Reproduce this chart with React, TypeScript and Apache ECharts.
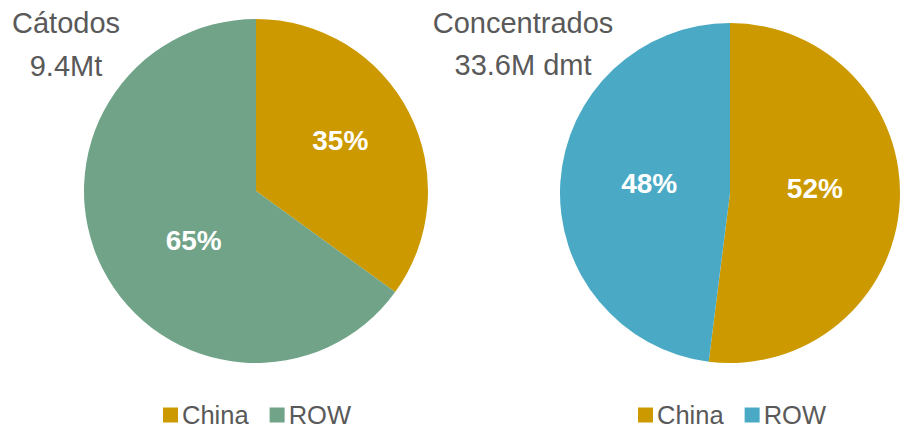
import React, { useEffect, useRef } from "react";
import * as echarts from "echarts";

const categories = ["China", "ROW"];
const catodosValues = [35, 65];
const concentradosValues = [52, 48];
const catodosTitle = ["Cátodos", "9.4Mt"];
const concentradosTitle = ["Concentrados", "33.6M dmt"];

const GOLD = "#CC9A00";
const GREEN = "#70A387";
const BLUE = "#4AAAC5";
const FONT = "Arial, 'Liberation Sans', sans-serif";

export default function App() {
  const ref = useRef<HTMLDivElement>(null);
  useEffect(() => {
    if (!ref.current) return;
    const chart = echarts.init(ref.current, null, { renderer: "svg" });
    const labelBase = {
      show: true,
      position: "inside",
      color: "#FFFFFF",
      fontSize: 28,
      fontWeight: "bold",
      fontFamily: FONT,
    };
    const leftColors = [GOLD, GREEN];
    const rightColors = [GOLD, BLUE];
    const leftOffsets = [[5, -10], [17, 9]];
    const rightOffsets = [[-3, -10], [7, -4]];
    const titleText = (t: string, x: number, y: number) => ({
      type: "text",
      x,
      y,
      style: {
        text: t,
        fill: "#595959",
        font: `29px ${FONT}`,
        textAlign: "center",
        textVerticalAlign: "middle",
      },
    });
    const legendBase = {
      top: 402,
      padding: 0,
      itemWidth: 15,
      itemHeight: 15,
      itemGap: 21,
      icon: "rect",
      textStyle: {
        fontSize: 25.5,
        lineHeight: 18,
        color: "#595959",
        fontFamily: FONT,
        padding: [0, 0, 0, -1],
      },
    };
    chart.setOption({
      animation: false,
      backgroundColor: "#FFFFFF",
      legend: [
        {
          ...legendBase,
          left: 163,
          data: categories.map((c, i) => ({ name: c, itemStyle: { color: leftColors[i] } })),
        },
        {
          ...legendBase,
          left: 638,
          data: categories.map((c, i) => ({ name: c, itemStyle: { color: rightColors[i] } })),
        },
      ],
      graphic: [
        titleText(catodosTitle[0], 66, 23),
        titleText(catodosTitle[1], 66, 66),
        titleText(concentradosTitle[0], 523, 23),
        titleText(concentradosTitle[1], 523, 65),
      ],
      series: [
        {
          type: "pie",
          center: [256, 191],
          radius: 172,
          startAngle: 90,
          clockwise: true,
          silent: true,
          label: { ...labelBase, formatter: "{c}%" },
          labelLine: { show: false },
          itemStyle: { borderWidth: 0 },
          data: categories.map((c, i) => ({
            name: c,
            value: catodosValues[i],
            itemStyle: { color: leftColors[i] },
            label: { offset: leftOffsets[i] },
          })),
        },
        {
          type: "pie",
          center: [730, 193],
          radius: 170,
          startAngle: 90,
          clockwise: true,
          silent: true,
          label: { ...labelBase, formatter: "{c}%" },
          labelLine: { show: false },
          itemStyle: { borderWidth: 0 },
          data: categories.map((c, i) => ({
            name: c,
            value: concentradosValues[i],
            itemStyle: { color: rightColors[i] },
            label: { offset: rightOffsets[i] },
          })),
        },
      ],
    });
    return () => chart.dispose();
  }, []);
  return (
    <div
      ref={ref}
      style={{ position: "fixed", left: 0, top: 0, width: 900, height: 426 }}
    />
  );
}
